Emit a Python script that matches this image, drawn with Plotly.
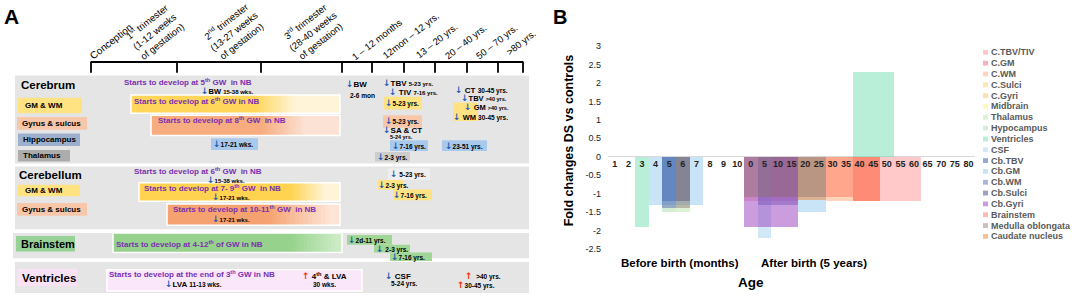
import plotly.graph_objects as go

W, H = 1072, 298
FONT = "Liberation Sans, Arial, sans-serif"


def X(px):
    return px / W


def Y(py):
    return 1 - py / H


# ---------------- Panel B data ----------------
age_labels = ["1", "2", "3", "4", "5", "6", "7", "8", "9", "10",
              "0", "5", "10", "15", "20", "25", "30", "35", "40", "45",
              "50", "55", "60", "65", "70", "75", "80"]
y_ticks = [3, 2.5, 2, 1.5, 1, 0.5, 0, -0.5, -1, -1.5, -2, -2.5]
y_ticktext = ["3", "2.5", "2", "1.5", "1", "0.5", "0", "-0.5", "-1", "-1.5", "-2", "-2.5"]

series_names = ["C.TBV/TIV", "C.GM", "C.WM", "C.Sulci", "C.Gyri", "Midbrain",
                "Thalamus", "Hypocampus", "Ventricles", "CSF", "Cb.TBV", "Cb.GM",
                "Cb.WM", "Cb.Sulci", "Cb.Gyri", "Brainstem", "Medulla oblongata",
                "Caudate nucleus"]

# each segment: (first age position, last age position, fold change)
c_tbv_tiv = [(10, 13, -1.2), (18, 22, -1.2)]
c_gm = [(11, 13, -1.1), (18, 19, -1.2)]
c_wm = [(16, 19, -1.2)]
c_sulci = [(11, 11, -1.1)]
c_gyri = [(11, 11, -1.1)]
midbrain = []
thalamus = [(5, 5, -1.5)]
hypocampus = [(4, 4, -1.5)]
ventricles = [(2, 2, -1.9), (18, 20, 2.3)]
csf = [(11, 11, -2.2)]
cb_tbv = [(4, 4, -1.2)]
cb_gm = [(3, 6, -1.3), (14, 15, -1.5)]
cb_wm = [(4, 4, -1.4), (11, 13, -1.3)]
cb_sulci = [(5, 5, -1.2)]
cb_gyri = [(10, 13, -1.9)]
brainstem = [(16, 17, -1.1), (18, 19, -1.2)]
medulla = [(5, 5, -1.4), (10, 15, -1.1)]
caudate = [(14, 15, -1.17)]

series_data = [c_tbv_tiv, c_gm, c_wm, c_sulci, c_gyri, midbrain, thalamus,
               hypocampus, ventricles, csf, cb_tbv, cb_gm, cb_wm, cb_sulci,
               cb_gyri, brainstem, medulla, caudate]

series_colors = [
    "rgba(255,120,120,0.4)", "rgba(240,80,110,0.45)", "rgba(255,170,120,0.5)",
    "rgba(250,200,90,0.45)", "rgba(245,190,80,0.45)", "rgba(250,240,120,0.45)",
    "rgba(170,220,150,0.4)", "rgba(150,210,150,0.4)", "rgba(100,220,170,0.45)",
    "rgba(150,205,240,0.45)", "rgba(60,100,170,0.55)", "rgba(120,185,235,0.4)",
    "rgba(70,90,175,0.45)", "rgba(90,100,150,0.6)", "rgba(160,75,195,0.55)",
    "rgba(255,120,95,0.5)", "rgba(140,115,110,0.45)", "rgba(240,130,50,0.5)"]

# drawing order (bottom to top) of the series
draw_order = list(range(16)) + [17, 16]

fig = go.Figure()
for k in draw_order:
    name, segs, col = series_names[k], series_data[k], series_colors[k]
    if not segs:
        continue
    fig.add_trace(go.Bar(
        x=[(s + e) / 2 for s, e, v in segs],
        y=[v for s, e, v in segs],
        width=[e - s + 1 for s, e, v in segs],
        name=name, marker=dict(color=col, line=dict(width=0)),
        showlegend=False, hoverinfo="skip"))

PB_X0, PB_X1 = 608, 608 + 27 * 13.6
PB_Y_TOP, PB_Y_BOT = 42.5, 252.5
zero_py = PB_Y_BOT - 2.5 * (PB_Y_BOT - PB_Y_TOP) / 5.5

shapes = []
ann = []


def rect(x0, y0, x1, y1, fill, line_color=None, lw=0):
    shapes.append(dict(type="rect", xref="paper", yref="paper",
                       x0=X(x0), x1=X(x1), y0=Y(y1), y1=Y(y0),
                       fillcolor=fill, layer="above",
                       line=dict(width=lw, color=line_color or "rgba(0,0,0,0)")))


def line(x0, y0, x1, y1, color="black", width=1.5):
    shapes.append(dict(type="line", xref="paper", yref="paper",
                       x0=X(x0), x1=X(x1), y0=Y(y0), y1=Y(y1),
                       line=dict(color=color, width=width)))


def T(x, y, text, size=8, color="black", xanchor="left", angle=0, bold=True):
    ann.append(dict(x=X(x), y=Y(y), xref="paper", yref="paper",
                    text=("<b>%s</b>" % text) if bold else text,
                    showarrow=False, xanchor=xanchor, yanchor="middle",
                    textangle=angle, borderpad=0,
                    font=dict(size=size, color=color, family=FONT)))


def mix(c1, c2, t):
    return "rgb(%d,%d,%d)" % tuple(round(a + (b - a) * t) for a, b in zip(c1, c2))


def grad_bar(x0, y0, x1, y1, c_solid, c_light, f0, f1, steps=14):
    rect(x0, y0, f0, y1, "rgb(%d,%d,%d)" % c_solid)
    w = (f1 - f0) / steps
    for i in range(steps):
        rect(f0 + i * w, y0, f0 + (i + 1) * w + 0.6, y1, mix(c_solid, c_light, (i + 0.5) / steps))
    rect(f1, y0, x1, y1, "rgb(%d,%d,%d)" % c_light)
    rect(x0, y0, x1, y1, "rgba(0,0,0,0)", "white", 1.5)


# ---------------- Panel B decorations ----------------
T(560, 12, "B", size=20, xanchor="center")
T(569, 140, "Fold changes DS vs controls", size=12.5, xanchor="center", angle=-90)
T(680, 267, "Before birth (months)", size=11.5, xanchor="center")
T(814, 267, "After birth (5 years)", size=11.5, xanchor="center")
T(751, 287, "Age", size=13.5, xanchor="center")
for i, (name, col) in enumerate(zip(series_names, series_colors)):
    yy = 49 + i * 11.2
    rect(983, yy - 2.5, 988, yy + 2.5, col)
    T(990, yy, name, size=9, color="#5a5a5a")

# ---------------- Panel A ----------------
PURPLE = "#7a30b0"
DOWN = "<span style='color:#1f5bb5;font-size:9px;font-family:DejaVu Sans'>↓</span>"
UP = "<span style='color:#ff2a00;font-size:9px;font-family:DejaVu Sans'>↑</span>"


def sm(t, s=6):
    return "<span style='font-size:%gpx'>%s</span>" % (s, t)


T(11, 12, "A", size=21, xanchor="center")

# timeline
line(91, 59, 523, 59, width=1.8)
for tx in [91, 177, 261, 342, 372, 404, 435, 467, 498, 523]:
    line(tx, 58.5, tx, 70, width=1.8)
T(111, 38, "Conception", size=10, xanchor="center", angle=-38, bold=False)
T(154, 27, "1<sup>st</sup> trimester<br>(1-12 weeks<br>of gestation)", size=9.5, xanchor="center", angle=-38, bold=False)
T(233, 27, "2<sup>nd</sup> trimester<br>(13-27 weeks<br>of gestation)", size=9.5, xanchor="center", angle=-38, bold=False)
T(312, 27, "3<sup>rd</sup> trimester<br>(28-40 weeks<br>of gestation)", size=9.5, xanchor="center", angle=-38, bold=False)
T(377, 36, "1 – 12 months", size=9.5, xanchor="center", angle=-38, bold=False)
T(411, 32, "12mon – 12 yrs.", size=9.5, xanchor="center", angle=-38, bold=False)
T(437, 37, "13 – 20 yrs.", size=9.5, xanchor="center", angle=-38, bold=False)
T(466, 38, "20 – 40 yrs.", size=9.5, xanchor="center", angle=-38, bold=False)
T(497, 38, "50 – 70 yrs.", size=9.5, xanchor="center", angle=-38, bold=False)
T(521, 39, ">80 yrs.", size=9.5, xanchor="center", angle=-38, bold=False)

GRAY = "rgb(229,229,229)"
rect(15, 73, 529, 164, GRAY)
rect(15, 167, 529, 232, GRAY)
rect(13, 236, 529, 262, GRAY)
rect(15, 266, 529, 298, GRAY)

YEL = "rgb(255,226,130)"
PEA = "rgb(248,198,168)"
BLU = "rgb(168,200,236)"
GRN = "rgb(160,214,150)"

# Cerebrum
T(20, 83, "Cerebrum", size=11.5)
rect(18, 96, 82, 112, YEL); T(24, 104, "GM &amp; WM", size=8)
rect(17, 116, 87, 129, PEA); T(21, 122.5, "Gyrus &amp; sulcus", size=8)
rect(18, 133, 80, 146, "rgb(156,176,205)"); T(22, 139.5, "Hippocampus", size=8)
rect(18, 150, 70, 162, "rgb(172,172,172)"); T(22, 156, "Thalamus", size=8)

T(123, 80, "Starts to develop at 5<sup>th</sup> GW  in NB", size=8, color=PURPLE)
T(200, 88.5, DOWN + "BW " + sm("15-38 wks."), size=7.5)
grad_bar(131, 93, 340, 112, (255, 214, 90), (255, 244, 215), 255, 295)
T(133, 99, "Starts to develop at 6<sup>th</sup> GW in NB", size=8, color=PURPLE)
grad_bar(151, 114, 340, 135, (247, 172, 128), (252, 226, 212), 262, 305)
T(157, 119, "Starts to develop at 8<sup>th</sup> GW  in NB", size=8, color=PURPLE)
rect(211, 138, 258, 150, BLU)
T(212, 144, DOWN + sm("17-21 wks.", 6.5), size=7.5)

T(345, 82, DOWN + "BW", size=8)
T(349, 94, sm("2-6 mon", 6.5), size=7)
T(382, 81, DOWN + "TBV " + sm("5-23 yrs."), size=8)
T(388, 90.5, DOWN + " TIV " + sm("7-16 yrs."), size=8)
rect(384, 95, 422, 108, YEL); T(384, 101.5, DOWN + sm("5-23 yrs.", 6.5), size=7.5)
rect(383, 114, 422, 127, PEA); T(384, 120.5, DOWN + sm("5-23 yrs.", 6.5), size=7.5)
T(382, 129.5, DOWN + "SA &amp; CT", size=8)
T(389, 136.5, sm("5-24 yrs.", 5.5), size=6)
rect(390, 140, 428, 151, BLU); T(391, 145.5, DOWN + sm("7-16 yrs.", 6.5), size=7.5)
rect(442, 140, 487, 151, BLU); T(444, 145.5, DOWN + sm("23-51 yrs.", 6.5), size=7.5)
rect(375, 152, 410, 162, "rgb(205,205,205)"); T(376, 157, DOWN + sm("2-3 yrs.", 6.5), size=7.5)
T(454, 87.5, DOWN + " CT " + sm("30-45 yrs.", 6.5), size=8)
rect(453, 101, 478, 120, YEL)
T(460, 96, DOWN + "TBV " + sm("&gt;40 yrs.", 5.5), size=7.5)
T(463, 105.5, DOWN + " GM " + sm("&gt;40 yrs.", 5.5), size=7.5)
T(452, 115.5, DOWN + " WM " + sm("30-45 yrs.", 6.5), size=7.5)

# Cerebellum
T(18, 175.5, "Cerebellum", size=11.5)
rect(18, 186, 80, 198, YEL); T(24, 192, "GM &amp; WM", size=8)
rect(17, 205, 87, 218, PEA); T(21, 211.5, "Gyrus &amp; sulcus", size=8)
T(133, 171.5, "Starts to develop at 6<sup>th</sup> GW  in NB", size=8, color=PURPLE)
T(206, 181.5, DOWN + sm("15-38 wks."), size=6.5)
grad_bar(139, 184, 340, 203, (255, 210, 80), (255, 244, 215), 290, 325)
T(143, 189.5, "Starts to develop at 7- 9<sup>th</sup> GW  in NB", size=8, color=PURPLE)
T(211, 199, DOWN + sm("17-21 wks."), size=7)
grad_bar(167, 206, 340, 228, (246, 162, 112), (253, 228, 214), 268, 330)
T(172, 211.5, "Starts to develop at 10-11<sup>th</sup> GW  in NB", size=8, color=PURPLE)
T(211, 221.5, DOWN + sm("17-21 wks."), size=7)
rect(388, 169, 430, 181, "rgb(238,238,238)"); T(389, 175, DOWN + sm(" 5-23 yrs.", 6.5), size=7.5)
rect(378, 181, 403, 191, YEL); T(377, 186, DOWN + sm("2-3 yrs.", 6.5), size=7.5)
rect(393, 191, 432, 202, YEL); T(392, 196.5, DOWN + sm("7-16 yrs.", 6.5), size=7.5)

# Brainstem
rect(16, 239, 75, 255, "rgb(150,210,150)"); T(20, 247, "Brainstem", size=11)
grad_bar(113, 236, 342, 256, (150, 210, 140), (205, 236, 198), 290, 338)
T(115, 247, "Starts to develop at 4-12<sup>th</sup> of GW in NB", size=8, color=PURPLE)
rect(347, 238, 392, 248, GRN); T(347, 243, DOWN + sm("2d-11 yrs.", 6.5), size=7)
rect(374, 248, 410, 256, GRN); T(375, 252, DOWN + sm(" 2-3 yrs.", 6.5), size=7)
rect(390, 256, 432, 265, GRN); T(390, 260.5, DOWN + sm("7-16 yrs.", 6.5), size=7)

# Ventricles
rect(17, 273, 77, 291, "rgb(250,226,246)"); T(21, 282, "Ventricles", size=11.5)
rect(107, 274, 362, 296, "rgb(250,231,250)", "white", 1.5)
T(108, 278.5, "Starts to develop at the end of 3<sup>th</sup> GW in NB", size=8, color=PURPLE)
T(164, 288.5, DOWN + "LVA " + sm("11-13 wks.", 6.5), size=8)
T(301, 280, UP + " 4<sup>th</sup> &amp; LVA", size=8)
T(312, 289, sm("30 wks.", 6.5), size=7)
T(384, 280.5, DOWN + " CSF", size=8)
T(390, 288.5, sm("5-24 yrs.", 6.5), size=7)
T(464, 280, UP + sm("  &gt;40 yrs.", 6.5), size=8)
T(456, 290, UP + sm("30-45 yrs.", 6.5), size=8)

fig.update_layout(
    width=W, height=H, autosize=False,
    margin=dict(l=0, r=0, t=0, b=0),
    paper_bgcolor="white", plot_bgcolor="rgba(0,0,0,0)",
    barmode="overlay", bargap=0, showlegend=False,
    shapes=shapes, annotations=ann,
    xaxis=dict(domain=[X(PB_X0), X(PB_X1)], range=[-0.5, 26.5],
               tickmode="array", tickvals=list(range(len(age_labels))),
               ticktext=["<b>%s</b>" % t for t in age_labels],
               anchor="free", position=Y(zero_py), showgrid=False,
               zeroline=False, showline=False, ticks="",
               tickfont=dict(size=9, color="#222", family=FONT), fixedrange=True),
    yaxis=dict(domain=[Y(PB_Y_BOT), Y(PB_Y_TOP)], range=[-2.5, 3],
               tickmode="array", tickvals=y_ticks, ticktext=y_ticktext,
               showgrid=False, zeroline=True, zerolinecolor="#d9d9d9",
               zerolinewidth=1, showline=False, ticks="", ticklabelstandoff=6,
               tickfont=dict(size=9, color="#222", family=FONT), fixedrange=True),
)

fig.write_html("out.html", config={"displayModeBar": False},
               post_script="document.body.style.margin='0';")
